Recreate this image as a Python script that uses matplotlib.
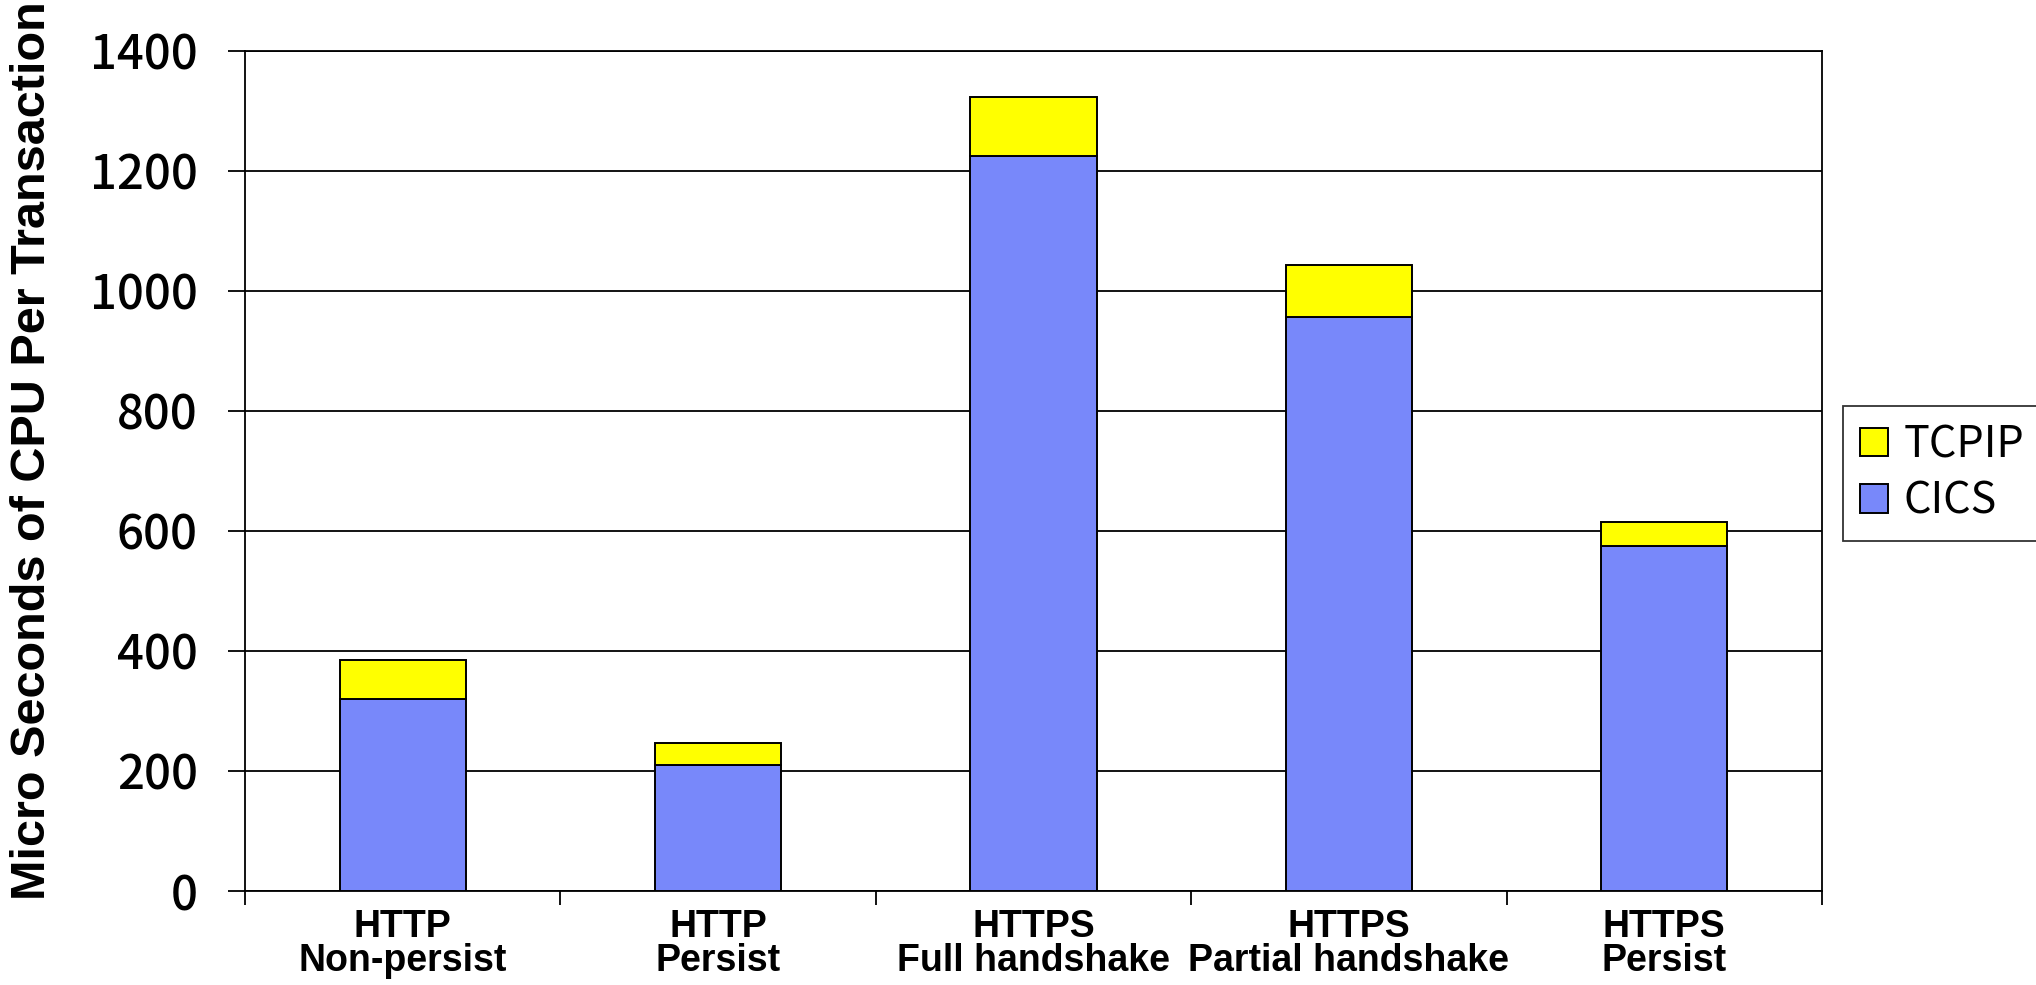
import matplotlib
matplotlib.use('Agg')
import matplotlib.pyplot as plt
import numpy as np

categories = ['HTTP\nNon-persist', 'HTTP\nPersist', 'HTTPS\nFull handshake',
              'HTTPS\nPartial handshake', 'HTTPS\nPersist']
cics = [320, 210, 1225, 956, 575]
tcpip = [65, 36, 97, 87, 40]

sans = ['Liberation Sans', 'DejaVu Sans']
gothic = ['Noto Sans CJK JP', 'DejaVu Sans']

fig = plt.figure(figsize=(20.36, 9.85), dpi=100)
ax = fig.add_axes([0.1203, 0.0954, 0.7746, 0.8532])

x = np.arange(len(categories))
ax.bar(x, cics, width=0.4, color='#7888FA', edgecolor='black', linewidth=1.4,
       label='CICS', zorder=3)
ax.bar(x, tcpip, width=0.4, bottom=cics, color='#FFFF00', edgecolor='black',
       linewidth=1.4, label='TCPIP', zorder=3)

ax.set_xlim(-0.5, len(categories) - 0.5)
ax.set_ylim(0, 1400)
ax.set_yticks(range(0, 1401, 200))
ax.yaxis.grid(True, color='black', linewidth=1.3, zorder=0)
ax.set_axisbelow(True)

# category names go between the boundary ticks
ax.set_xticks(np.arange(-0.5, len(categories), 1.0))
ax.set_xticklabels([])
ax.set_xticks(x, minor=True)
ax.tick_params(axis='x', which='major', direction='out', length=10, width=1.3)
ax.tick_params(axis='x', which='minor', length=0, pad=13)
ax.set_xticklabels(categories, minor=True, fontsize=27, fontweight='bold',
                   family=sans, linespacing=0.93)
ax.tick_params(axis='y', direction='out', length=12, width=1.3, pad=22)
for lab in ax.get_yticklabels():
    lab.set_family(gothic)
    lab.set_fontsize(34)
    lab.set_fontweight('medium')

for s in ax.spines.values():
    s.set_linewidth(1.3)

ax.set_ylabel('Micro Seconds of CPU Per Transaction', fontsize=35,
              fontweight='bold', family=sans, va='center')
ax.yaxis.set_label_coords(-0.135, 0.524)

handles, labels = ax.get_legend_handles_labels()
leg = fig.legend(handles[::-1], labels[::-1], loc='upper left',
                 bbox_to_anchor=(1843 / 2036, 1 - 406 / 985),
                 prop={'family': gothic, 'size': 31}, frameon=True,
                 fancybox=False, edgecolor='black', handlelength=0.65,
                 handleheight=0.65, handletextpad=0.35, borderpad=0.4,
                 labelspacing=0.28, borderaxespad=0)
leg.get_frame().set_linewidth(1.3)

fig.savefig('out.png', dpi=100)
